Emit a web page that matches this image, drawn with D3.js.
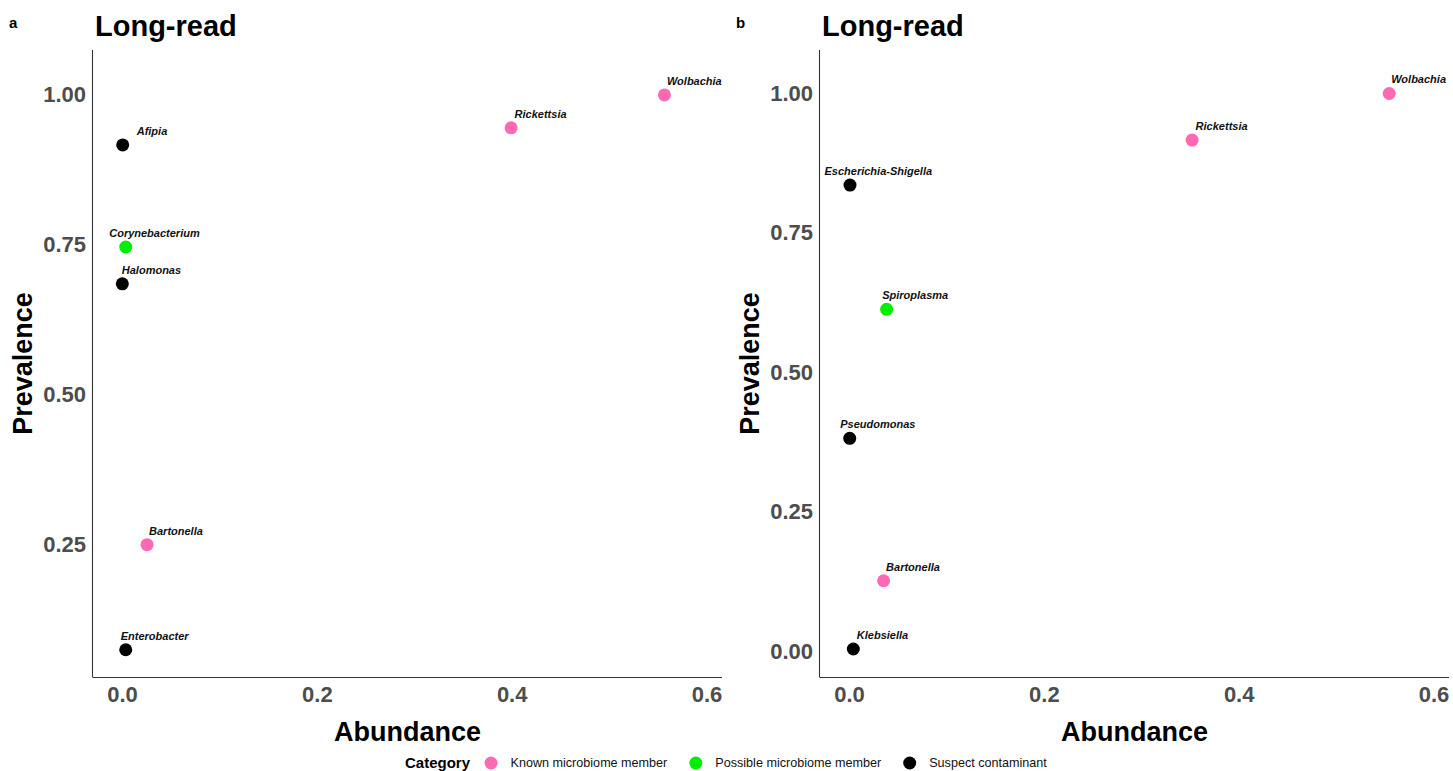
<!DOCTYPE html>
<html>
<head>
<meta charset="utf-8">
<script src="https://cdn.jsdelivr.net/npm/d3@7"></script>
<style>
  html, body { margin: 0; padding: 0; background: #ffffff; }
  svg { display: block; font-family: "Liberation Sans", Arial, Helvetica, sans-serif; }
</style>
</head>
<body>
<svg id="chart" width="1453" height="771"></svg>
<script>
// ---- data ----
const categories = ["Known microbiome member", "Possible microbiome member", "Suspect contaminant"];
const categoryColors = ["#FF69B4", "#00EE00", "#000000"];

const taxaA       = ["Wolbachia", "Rickettsia", "Afipia", "Corynebacterium", "Halomonas", "Bartonella", "Enterobacter"];
const abundanceA  = [0.5568, 0.3994, 0.0007, 0.0038, 0.0003, 0.0257, 0.0038];
const prevalenceA = [1.0, 0.945, 0.9165, 0.746, 0.6845, 0.249, 0.0735];
const categoryA   = ["Known microbiome member", "Known microbiome member", "Suspect contaminant", "Possible microbiome member", "Suspect contaminant", "Known microbiome member", "Suspect contaminant"];

const taxaB       = ["Wolbachia", "Rickettsia", "Escherichia-Shigella", "Spiroplasma", "Pseudomonas", "Bartonella", "Klebsiella"];
const abundanceB  = [0.5545, 0.3522, 0.001, 0.0386, 0.0007, 0.0355, 0.0044];
const prevalenceB = [1.0, 0.9164, 0.8357, 0.6128, 0.3815, 0.126, 0.0036];
const categoryB   = ["Known microbiome member", "Known microbiome member", "Suspect contaminant", "Possible microbiome member", "Suspect contaminant", "Known microbiome member", "Suspect contaminant"];

const xTicks  = [0, 0.2, 0.4, 0.6];
const yTicksA = [0.25, 0.50, 0.75, 1.00];
const yTicksB = [0.00, 0.25, 0.50, 0.75, 1.00];

const panelTitle = "Long-read";
const xTitle = "Abundance";
const yTitle = "Prevalence";
const legendTitle = "Category";

// ---- layout (positions / styles, separate from data) ----
const labelDx = {
  a: { "Wolbachia": 2.5, "Rickettsia": 3.5, "Afipia": 14, "Corynebacterium": -16.5, "Halomonas": -0.5, "Bartonella": 2, "Enterobacter": -5 },
  b: { "Wolbachia": 2, "Rickettsia": 3.5, "Escherichia-Shigella": -25.5, "Spiroplasma": -4.5, "Pseudomonas": -9.5, "Bartonella": 2.5, "Klebsiella": 3.5 }
};

const svg = d3.select("#chart");
const color = d3.scaleOrdinal().domain(categories).range(categoryColors);

function drawPanel(cfg) {
  const g = svg.append("g");
  const x = d3.scaleLinear().domain([-0.0298, 0.6159]).range([cfg.left, cfg.right]);
  const y = d3.scaleLinear().domain(cfg.yDomain).range([cfg.bottom, cfg.top]);

  // x axis (line + labels, no tick marks)
  const xAxis = d3.axisBottom(x).tickValues(xTicks).tickFormat(d3.format(".1f")).tickSize(0).tickPadding(9);
  const gx = g.append("g").attr("transform", `translate(0,${cfg.bottom})`).call(xAxis);
  gx.select(".domain").attr("stroke", "#333333").attr("stroke-width", 1.1)
    .attr("d", `M${cfg.left},0.5H${cfg.right}`);
  gx.selectAll("text").attr("fill", "#4D4D4D").attr("font-size", 22).attr("font-weight", "bold")
    .attr("font-family", "Liberation Sans, Arial, sans-serif");

  const yAxis = d3.axisLeft(y).tickValues(cfg.yTicks).tickFormat(d3.format(".2f")).tickSize(0).tickPadding(7);
  const gy = g.append("g").attr("transform", `translate(${cfg.left},0)`).call(yAxis);
  gy.select(".domain").attr("stroke", "#333333").attr("stroke-width", 1.1)
    .attr("d", `M-0.5,${cfg.top}V${cfg.bottom + 0.5}`);
  gy.selectAll("text").attr("fill", "#4D4D4D").attr("font-size", 22).attr("font-weight", "bold")
    .attr("font-family", "Liberation Sans, Arial, sans-serif");

  // points
  const rows = cfg.taxa.map((t, i) => ({ taxon: t, ab: cfg.ab[i], pr: cfg.pr[i], cat: cfg.cat[i] }));
  g.selectAll("circle.pt").data(rows).enter().append("circle")
    .attr("class", "pt")
    .attr("cx", d => x(d.ab)).attr("cy", d => y(d.pr)).attr("r", 6.5)
    .attr("fill", d => color(d.cat));

  // labels
  g.selectAll("text.lbl").data(rows).enter().append("text")
    .attr("class", "lbl")
    .attr("x", d => x(d.ab) + cfg.dx[d.taxon])
    .attr("y", d => y(d.pr) - 14 + 4)
    .attr("font-size", 11).attr("font-weight", "bold").attr("font-style", "italic")
    .attr("fill", "#111111")
    .text(d => d.taxon);

  // titles
  g.append("text").attr("x", cfg.left + 2).attr("y", 36)
    .attr("font-size", 29).attr("font-weight", "bold").attr("fill", "#000")
    .text(panelTitle);
  g.append("text").attr("x", cfg.tagX).attr("y", 28)
    .attr("font-size", 15).attr("font-weight", "bold").attr("fill", "#000")
    .text(cfg.tag);
  g.append("text").attr("x", (cfg.left + cfg.right) / 2).attr("y", 741)
    .attr("text-anchor", "middle").attr("font-size", 27).attr("font-weight", "bold").attr("fill", "#000")
    .text(xTitle);
  g.append("text")
    .attr("transform", `translate(${cfg.left - 61},${(cfg.top + cfg.bottom) / 2}) rotate(-90)`)
    .attr("text-anchor", "middle").attr("font-size", 27).attr("font-weight", "bold").attr("fill", "#000")
    .text(yTitle);
}

drawPanel({
  tag: "a", tagX: 9,
  left: 93, right: 722, top: 50, bottom: 677,
  yDomain: [0.028, 1.075], yTicks: yTicksA,
  taxa: taxaA, ab: abundanceA, pr: prevalenceA, cat: categoryA, dx: labelDx.a
});
drawPanel({
  tag: "b", tagX: 736,
  left: 820, right: 1449, top: 50, bottom: 677,
  yDomain: [-0.0466, 1.078], yTicks: yTicksB,
  taxa: taxaB, ab: abundanceB, pr: prevalenceB, cat: categoryB, dx: labelDx.b
});

// legend
const lg = svg.append("g").attr("transform", "translate(405,0)");
const cy = 763;
const lt = lg.append("text").attr("x", 0).attr("y", cy + 5.4)
  .attr("font-size", 15).attr("font-weight", "bold").attr("fill", "#000").text(legendTitle);
let cur = lt.node().getComputedTextLength() + 21;
categories.forEach((c, i) => {
  lg.append("circle").attr("cx", cur).attr("cy", cy).attr("r", 6.5).attr("fill", color(c));
  const t = lg.append("text").attr("x", cur + 19.5).attr("y", cy + 4.4)
    .attr("font-size", 12.6).attr("fill", "#111").text(c);
  cur = cur + 19.5 + t.node().getComputedTextLength() + 28.5;
});
</script>
</body>
</html>
